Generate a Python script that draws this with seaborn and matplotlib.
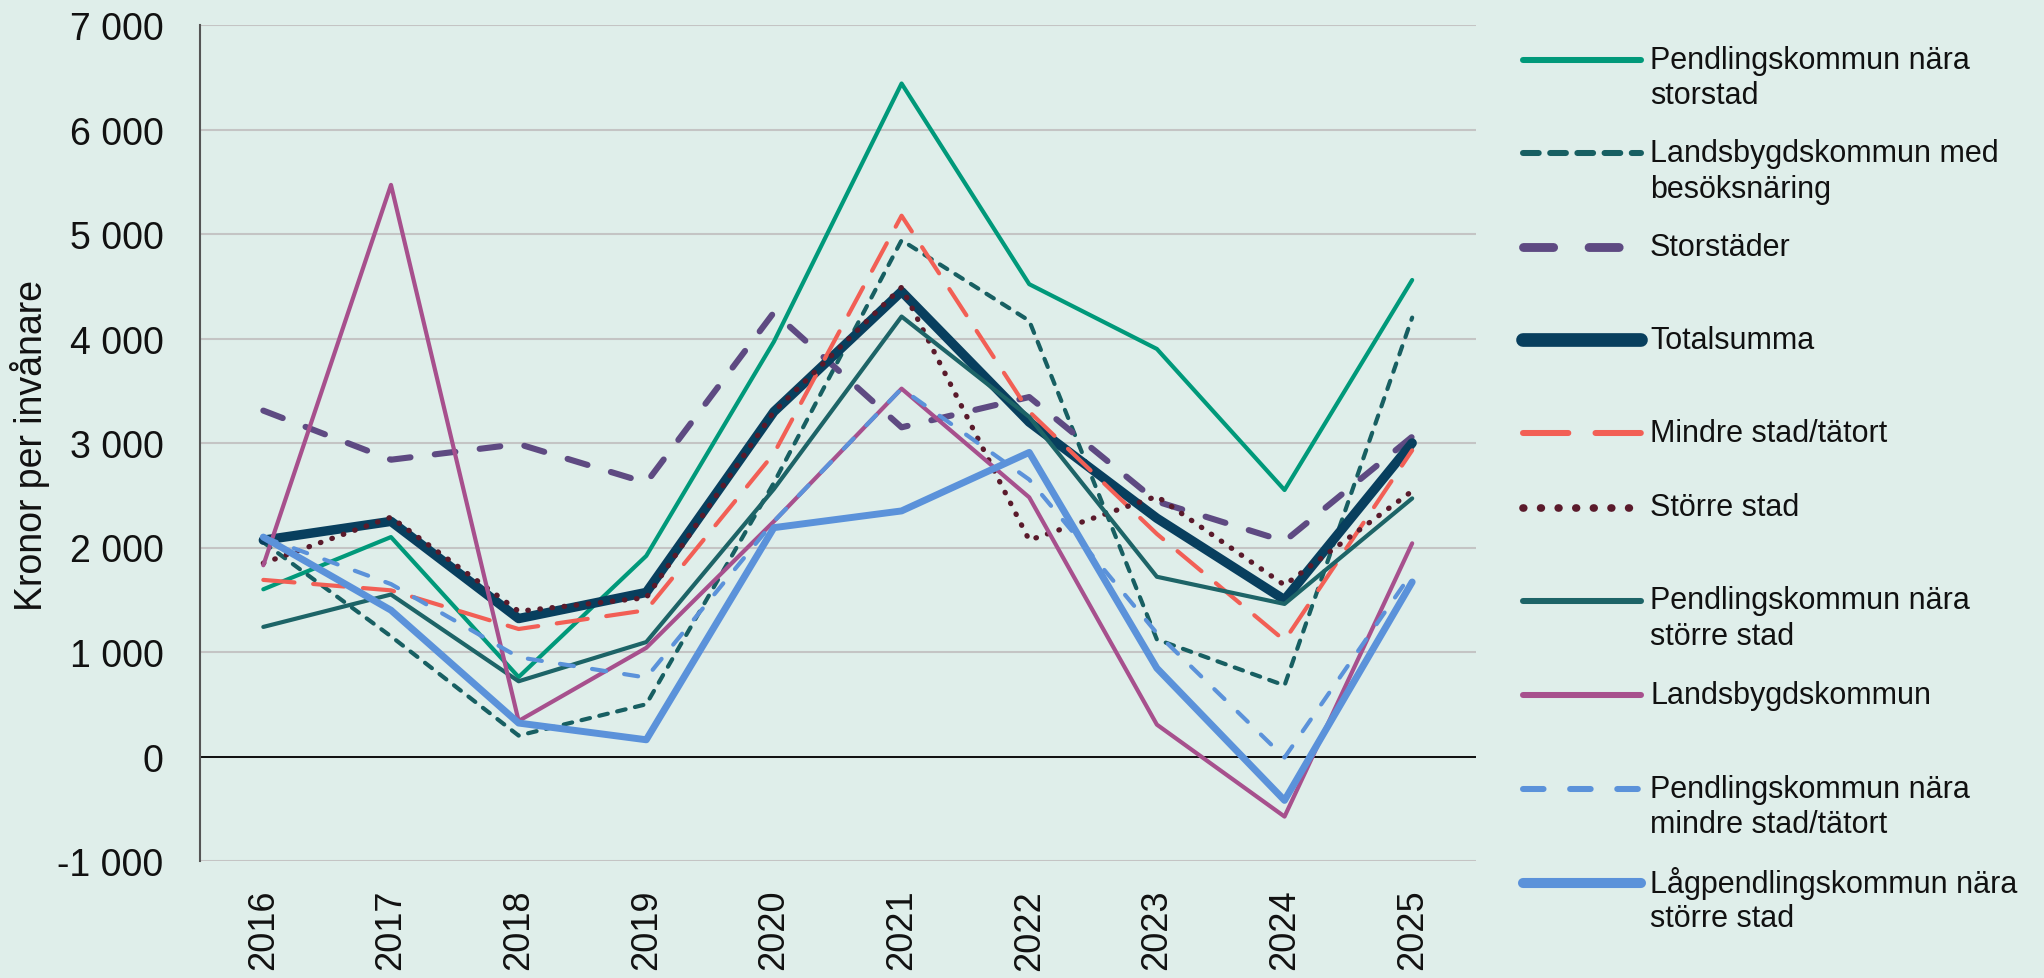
import matplotlib
matplotlib.use("Agg")
import matplotlib.pyplot as plt
from matplotlib.lines import Line2D
from matplotlib.ticker import FuncFormatter
import seaborn as sns
import pandas as pd

years = [2016, 2017, 2018, 2019, 2020, 2021, 2022, 2023, 2024, 2025]

pend_storstad = [1600, 2100, 760, 1920, 3970, 6440, 4520, 3900, 2550, 4560]
landsb_besok = [2050, 1150, 200, 500, 2620, 4940, 4170, 1120, 680, 4200]
storstader = [3310, 2840, 2990, 2620, 4250, 3150, 3440, 2440, 2060, 3060]
totalsumma = [2070, 2250, 1320, 1570, 3300, 4450, 3200, 2280, 1500, 3000]
mindre_stad = [1690, 1590, 1220, 1400, 2900, 5175, 3300, 2130, 1110, 2930]
storre_stad = [1850, 2290, 1390, 1520, 3300, 4490, 2070, 2490, 1640, 2540]
pend_storre = [1240, 1550, 720, 1095, 2560, 4210, 3250, 1720, 1460, 2470]
landsbygd = [1830, 5470, 340, 1040, 2250, 3520, 2480, 305, -575, 2040]
pend_mindre = [2100, 1650, 950, 755, 2250, 3520, 2650, 1180, -10, 1760]
lagpendling = [2100, 1400, 320, 160, 2190, 2350, 2910, 845, -420, 1670]

series_names = ["Pendlingskommun nära storstad",
                "Landsbygdskommun med besöksnäring",
                "Storstäder",
                "Totalsumma",
                "Mindre stad/tätort",
                "Större stad",
                "Pendlingskommun nära större stad",
                "Landsbygdskommun",
                "Pendlingskommun nära mindre stad/tätort",
                "Lågpendlingskommun nära större stad"]
series_values = [pend_storstad, landsb_besok, storstader, totalsumma, mindre_stad,
                 storre_stad, pend_storre, landsbygd, pend_mindre, lagpendling]
legend_labels = ["Pendlingskommun nära\nstorstad",
                 "Landsbygdskommun med\nbesöksnäring",
                 "Storstäder",
                 "Totalsumma",
                 "Mindre stad/tätort",
                 "Större stad",
                 "Pendlingskommun nära\nstörre stad",
                 "Landsbygdskommun",
                 "Pendlingskommun nära\nmindre stad/tätort",
                 "Lågpendlingskommun nära\nstörre stad"]

colors = ["#00997A", "#175F62", "#5E4A82", "#083F5E", "#F25F55",
          "#5A1A2B", "#1D6467", "#A7508D", "#5B92DA", "#5B92DA"]
widths = [3.0, 3.0, 4.4, 6.8, 3.0, 3.8, 3.0, 3.0, 3.0, 5.0]
dash_styles = ["", (2.1, 2.3), (3.4, 4.0), "", (7.5, 4.5),
               (0.1, 2.2), "", "", (3.4, 4.4), ""]
legend_dashes = ["", (2.6, 1.9), (3.4, 4.0), "", (7.5, 4.5),
                 (0.1, 2.2), "", "", (3.4, 4.4), ""]

rows = []
for name, vals in zip(series_names, series_values):
    for yr, v in zip(years, vals):
        rows.append({"År": yr, "Kronor": v, "Serie": name})
df = pd.DataFrame(rows)

BG = "#DFEEEA"
sns.set_style("white")
plt.rcParams["font.family"] = ["Liberation Sans", "DejaVu Sans"]
plt.rcParams["lines.dash_capstyle"] = "round"
plt.rcParams["lines.solid_capstyle"] = "round"
plt.rcParams["lines.dash_joinstyle"] = "round"
plt.rcParams["lines.solid_joinstyle"] = "round"

W, H = 2044, 979
fig = plt.figure(figsize=(W / 100, H / 100), dpi=100, facecolor=BG)
ax = fig.add_axes([199.5 / W, 1 - 862 / H, (1476 - 199.5) / W, (862 - 26) / H])
ax.set_facecolor(BG)

sns.lineplot(data=df, x="År", y="Kronor", hue="Serie", style="Serie", size="Serie",
             hue_order=series_names, style_order=series_names, size_order=series_names,
             palette=dict(zip(series_names, colors)),
             dashes=dict(zip(series_names, dash_styles)),
             sizes=dict(zip(series_names, widths)),
             legend=False, ax=ax, zorder=3)

ax.set_xlim(2015.5, 2025.5)
ax.set_ylim(-1000, 7000)
ax.set_xticks(years)
ax.set_xticklabels([str(y) for y in years], rotation=90)
ax.set_yticks(range(-1000, 7001, 1000))
ax.yaxis.set_major_formatter(FuncFormatter(lambda v, p: f"{int(v):,}".replace(",", " ")))
ax.tick_params(axis="y", length=0, pad=26, labelsize=27, labelcolor="#111111")
ax.tick_params(axis="x", length=0, pad=20, labelsize=26, labelcolor="#111111")
ax.grid(axis="y", color="#C4C4C4", lw=1.5, zorder=0)
ax.set_axisbelow(True)
ax.axhline(0, color="black", lw=1.3, zorder=2)
for side, spine in ax.spines.items():
    spine.set_visible(side == "left")
ax.spines["left"].set_color("#555555")
ax.spines["left"].set_linewidth(1.5)
ax.set_xlabel("")
ax.set_ylabel("Kronor per invånare", fontsize=27, color="#111111",
              family=["Liberation Sans Narrow", "Liberation Sans"])
ax.yaxis.set_label_coords(-0.1175, 0.498)

# legend, drawn by hand to keep the uneven spacing of the original
handle_y = [60.6, 154.4, 248, 341, 434, 508.5, 601.5, 696, 790, 884]
line_gap = 35.5
for lab, col, lw, ds, hy in zip(legend_labels, colors, widths, legend_dashes, handle_y):
    ln = Line2D([1523 / W, 1641 / W], [1 - hy / H, 1 - hy / H],
                transform=fig.transFigure, color=col, lw=lw * 1.45)
    if ds:
        ln.set_dashes(ds)
    fig.add_artist(ln)
    for k, part in enumerate(lab.split("\n")):
        fig.text(1650 / W, 1 - (hy + k * line_gap) / H, part, fontsize=22,
                 va="center", ha="left", color="#111111")

fig.savefig("out.png", dpi=100, facecolor=BG)
